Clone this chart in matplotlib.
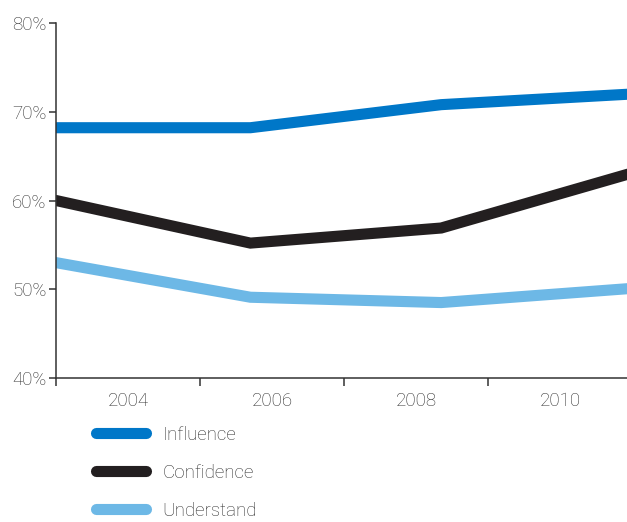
import matplotlib
matplotlib.use('Agg')
import matplotlib.pyplot as plt
from matplotlib.ticker import FixedLocator, NullFormatter

# survey points (fractional years) and shares in percent
years = [2003.0, 2005.7, 2008.35, 2011.0]
influence = [68.2, 68.2, 70.8, 72.0]
confidence = [60.0, 55.2, 56.9, 63.1]
understand = [53.0, 49.1, 48.5, 50.1]

series_names = ['Influence', 'Confidence', 'Understand']
series_colors = ['#0077c8', '#231f20', '#6db8e6']

year_labels = ['2004', '2006', '2008', '2010']
year_label_pos = [2004, 2006, 2008, 2010]
year_tick_pos = [2003, 2005, 2007, 2009, 2011]
y_ticks = [40, 50, 60, 70, 80]

plt.rcParams['font.family'] = ['Roboto', 'DejaVu Sans']
plt.rcParams['font.weight'] = 'light'
text_color = '#2e2e2e'
fsize = 13.5

fig = plt.figure(figsize=(6.27, 5.22), dpi=100)
ax = fig.add_axes([56 / 627, 144 / 522, 1 - 56 / 627, 355 / 522])

for vals, name, color in zip([influence, confidence, understand], series_names, series_colors):
    ax.plot(years, vals, color=color, lw=8, solid_capstyle='round',
            solid_joinstyle='miter', label=name)

ax.set_xlim(2003, 2003 + 571 / 72)
ax.set_ylim(40, 80)

for side in ['top', 'right']:
    ax.spines[side].set_visible(False)
for side in ['left', 'bottom']:
    ax.spines[side].set_color('#333333')
    ax.spines[side].set_linewidth(1.1)

ax.set_yticks(y_ticks)
ax.set_yticklabels([f'{v}%' for v in y_ticks])
ax.tick_params(axis='y', direction='out', length=5, width=1.1, color='#333333',
               labelsize=fsize, labelcolor=text_color, pad=2)

ax.xaxis.set_major_locator(FixedLocator(year_tick_pos))
ax.xaxis.set_major_formatter(NullFormatter())
ax.xaxis.set_minor_locator(FixedLocator(year_label_pos))
ax.set_xticklabels(year_labels, minor=True)
ax.tick_params(axis='x', which='major', direction='out', length=6, width=1.1, color='#333333')
ax.tick_params(axis='x', which='minor', length=0, labelsize=fsize, labelcolor=text_color, pad=10)

leg = fig.legend(loc='upper left', bbox_to_anchor=(79 / 627, 1 - 409 / 522),
                 frameon=False, fontsize=fsize, handlelength=2.65, handletextpad=0.9,
                 labelspacing=1.07)
for t in leg.get_texts():
    t.set_color(text_color)

fig.savefig('out.png', dpi=100, facecolor='white')
